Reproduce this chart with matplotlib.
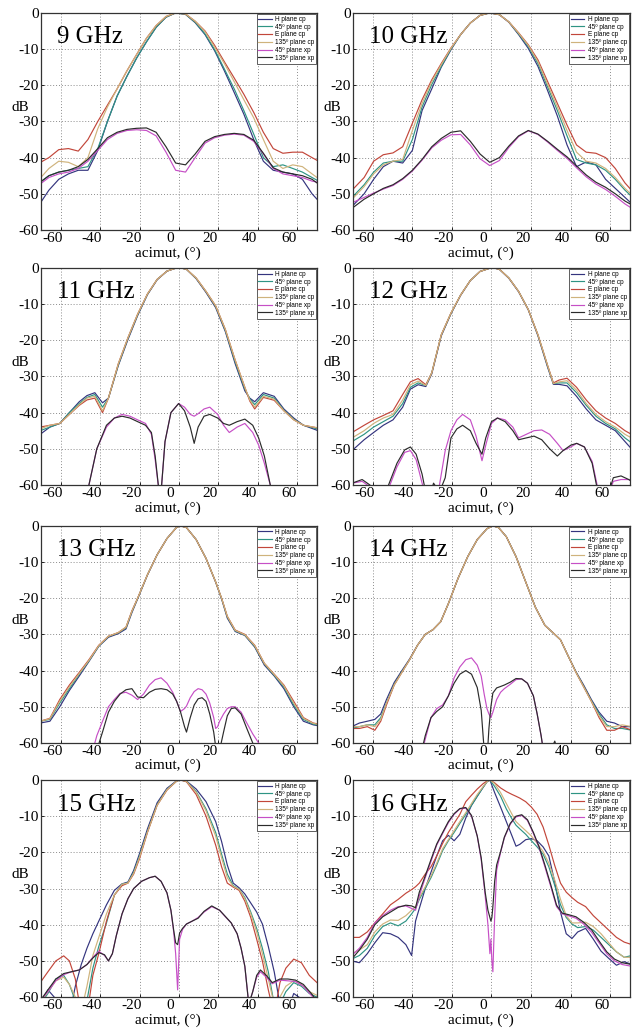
import matplotlib
matplotlib.use("Agg")
import matplotlib.pyplot as plt
import matplotlib.transforms as mtransforms

plt.rcParams['font.family'] = ['Liberation Serif', 'DejaVu Serif']
plt.rcParams['axes.unicode_minus'] = False

series_labels = ["H plane cp", "45º plane cp", "E plane cp", "135º plane cp",
                 "45º plane xp", "135º plane xp"]
series_colors = ["#34347e", "#2e9484", "#c2463a", "#cfb37c", "#c64fc6", "#2b2b2b"]

# ---- 9 GHz ----
x_9 = [-70.9, -66, -61, -56.1, -51.1, -46.2, -41.2, -36.3, -31.4, -26.4, -21.5, -16.5, -11.6, -6.6, -1.7,
       3.3, 8.2, 13.2, 18.1, 23, 28, 32.9, 37.9, 42.8, 47.8, 52.7, 57.7, 62.6, 67.5, 72.5]
h_9 = [-53, -49, -46, -44.5, -43.5, -43.5, -38, -30, -23, -17.5, -12.5, -8, -4, -1.2, 0,
       -0.4, -2.7, -6, -10.5, -16, -22, -28, -35, -41, -43.5, -44, -44.5, -46, -50, -53]
d45_9 = [-47, -45, -44, -43.5, -43, -42.5, -37.5, -30, -23, -17.5, -12.5, -8, -4, -1.2, 0,
         -0.4, -2.6, -5.8, -10.2, -15.5, -21, -27, -33.5, -40, -42.5, -42, -43, -44, -45.5, -47]
e_9 = [-41.5, -40, -37.8, -37.5, -38.2, -35, -30, -25.5, -21, -16, -11.5, -7, -3.5, -1, 0,
       -0.3, -2.3, -5, -9, -13.5, -18, -22.5, -27.5, -33, -37.5, -38.8, -38.5, -38.5, -40, -41.5]
d135_9 = [-46, -43, -41, -41.3, -42.5, -40, -32, -26, -21, -16, -11.5, -7, -3.5, -1, 0,
          -0.3, -2.3, -5.2, -9.5, -14, -19, -24, -29, -35, -41, -43, -42, -42.5, -44.5, -46.5]
xp45_9 = [-47.5, -45.5, -44.5, -44, -43, -41, -38, -35, -33.3, -32.5, -32.3, -32.5, -34, -38.5, -43.5,
          -44, -40, -36, -34.5, -33.8, -33.5, -33.8, -35.5, -39, -43, -44.5, -45, -45.5, -46.5, -47]
xp135_9 = [-47, -45, -44, -43.5, -42.5, -40.5, -37.5, -34.5, -33, -32.2, -31.9, -31.8, -33, -37, -41.5,
           -42, -39, -35.5, -34.2, -33.6, -33.3, -33.6, -35.2, -38.8, -42.8, -44, -44.5, -45, -46, -48]

# ---- 10 GHz ----
x_10 = [-70.5, -64.4, -59.6, -54.7, -49.8, -44.9, -40, -35.1, -30.2, -25.4, -20.5, -15.6, -10.7, -5.8, -0.9,
        4, 8.8, 13.7, 18.6, 23.5, 28.4, 33.3, 38.2, 43, 47.9, 52.8, 57.7, 62.6, 67.5, 72.4]
h_10 = [-53.5, -50, -46, -42.5, -41, -41.5, -38, -27, -21, -15, -10.2, -6, -2.8, -0.7, 0,
        -0.5, -2.6, -6, -9.8, -14.8, -21.5, -28.5, -36.5, -42.5, -41.2, -42, -46, -48.5, -51, -53.5]
d45_10 = [-51, -47.5, -44, -41.5, -41, -41, -35, -26, -19.8, -14.8, -10, -6, -2.8, -0.7, 0,
          -0.5, -2.5, -5.8, -9.3, -14, -20.5, -27, -34, -40.5, -41.5, -42, -43.5, -46, -49, -51.5]
e_10 = [-49, -45.5, -41, -39.2, -38.7, -37, -30.5, -24, -18.5, -14, -9.7, -6, -2.8, -0.7, 0,
        -0.5, -2.5, -5.5, -8.8, -13, -19, -25, -31, -36.5, -38.5, -38.8, -40, -43, -47, -50]
d135_10 = [-51.5, -48, -44.5, -42, -41, -40.5, -32.5, -25, -19, -14.3, -9.8, -6, -2.8, -0.7, 0,
           -0.5, -2.5, -5.6, -9, -13.5, -19.8, -26, -32.5, -38.5, -41, -41.5, -43, -45.5, -48.5, -51]
xp45_10 = [-52.5, -51, -49.8, -48.7, -47.7, -46, -43.7, -40.7, -37.3, -35.2, -33.7, -33.6, -36.5, -40.3, -42.2,
           -40.8, -37.2, -34.2, -32.6, -33.6, -35.7, -38, -40.2, -42.8, -45.3, -47.3, -48.8, -50.7, -52.8, -54.5]
xp135_10 = [-54, -51.5, -50, -48.5, -47.5, -45.8, -43.5, -40.5, -37, -34.7, -33, -32.6, -35.5, -39, -41.3,
            -40, -36.8, -34, -32.5, -33.5, -35.5, -37.7, -39.8, -42.3, -44.8, -46.8, -48.2, -50, -52, -53.5]

# ---- 11 GHz ----
x_11 = [-70.4, -65.5, -60.5, -55.6, -50.6, -46.7, -42.7, -38.8, -35.8, -30.8, -25.9, -21, -16, -11.1, -6.1,
        -1.2, 0.8, 3.8, 8.7, 13.7, 18.6, 23.5, 28.5, 33.4, 35.9, 38.4, 42.8, 48.3, 53.2, 58.2, 63.1, 68.1, 73]
h_11 = [-46, -44, -43, -40, -37, -35.3, -34.5, -37.3, -36, -27, -19.8, -13.2, -7.4, -3.3, -0.9,
        0, 0, -0.4, -3, -6.8, -11, -17.6, -26.5, -34, -36, -37, -34.5, -35.5, -39, -41.5, -43.5, -44.5, -45.5]
d45_11 = [-45, -44, -43, -40, -37.5, -35.8, -35, -38.5, -36, -26.8, -19.5, -13, -7.3, -3.2, -0.9,
          0, 0, -0.4, -2.9, -6.6, -10.7, -17.3, -26, -33.5, -36.2, -37.8, -35, -36, -39.3, -41.8, -43.5, -44.2, -45]
e_11 = [-44, -43.5, -43, -40.5, -38, -36.5, -36, -40, -36, -26.5, -19.3, -12.8, -7.2, -3.2, -0.9,
        0, 0, -0.4, -2.8, -6.5, -10.5, -17, -25.5, -33, -36.8, -39, -35.8, -36.6, -39.5, -42, -43.5, -44, -44.5]
d135_11 = [-44.5, -43.5, -43, -40.5, -37.8, -36, -35.5, -39.5, -36, -26.5, -19.3, -12.8, -7.2, -3.2, -0.9,
           0, 0, -0.4, -2.8, -6.5, -10.5, -17, -25.5, -33, -36.5, -38.5, -35.5, -36.3, -39.5, -42, -43.5, -44, -44.5]
xq_11 = [-47.7, -45.7, -41.7, -36.8, -32.8, -28.9, -24.9, -21, -17, -14, -12.1, -10.1, -9.1, -7.1, -4.1,
         -0.2, 2.8, 5.7, 7.7, 9.7, 12.7, 15.6, 19.6, 22.6, 25.5, 29.5, 33.4, 37.4, 40.4, 43.3, 46.3]
xp45_11 = [-64, -60, -50, -44, -41.5, -40.5, -41, -42, -43, -46, -53, -62, -62, -48, -40,
           -37.5, -38.5, -40.5, -41, -40.3, -39, -38.5, -40.5, -43.5, -45.5, -44, -43, -45.5, -49, -54, -60]
xp135_11 = [-64, -60, -50, -43.5, -41.5, -41, -41.5, -42.5, -43.5, -45.5, -52, -62, -62, -48, -40,
            -37.5, -39.5, -44, -48.5, -44, -41, -40.5, -41.5, -43, -43.5, -42.5, -41.8, -43.5, -47, -52, -60]

# ---- 12 GHz ----
x_12 = [-70.5, -64.4, -59.6, -54.7, -49.8, -44.9, -41, -37.1, -33.2, -30.2, -25.4, -20.5, -15.6, -10.7, -5.8,
        -0.9, 1, 4, 8.8, 13.7, 18.6, 23.5, 28.4, 31.3, 34.2, 38.2, 43, 47.9, 52.8, 57.7, 62.6, 67.5, 72.4]
h_12 = [-50.5, -47.5, -45.5, -43.5, -42, -38.5, -33.5, -32.3, -32.8, -29.3, -18.8, -12.7, -7.6, -3.5, -1,
        -0.1, 0, -0.4, -2.9, -6.6, -11.6, -18.8, -27.5, -32.2, -32.2, -32.6, -35.5, -39, -42, -43.5, -45, -48, -51]
d45_12 = [-48, -46, -44, -42.5, -41, -37.5, -33, -31.8, -32.5, -29, -18.6, -12.6, -7.5, -3.5, -1,
          -0.1, 0, -0.4, -2.8, -6.5, -11.5, -18.6, -27.2, -32, -31.8, -31.8, -34.5, -38, -41, -43, -44.5, -47, -49]
e_12 = [-45.5, -43.5, -42, -40.8, -39.5, -35, -31.5, -30.6, -32.3, -29, -18.5, -12.5, -7.5, -3.5, -1,
        -0.1, 0, -0.4, -2.8, -6.5, -11.5, -18.5, -27, -31.8, -31, -30.5, -33, -36.5, -39.5, -41.5, -43, -45, -46.5]
d135_12 = [-47, -45, -43, -41.5, -40.5, -36.5, -32.3, -31.3, -32.5, -29, -18.5, -12.5, -7.5, -3.5, -1,
           -0.1, 0, -0.4, -2.8, -6.5, -11.5, -18.5, -27, -32, -31.5, -31.2, -33.8, -37.5, -40.5, -42.5, -44, -46, -47.5]
xq_12 = [-70.5, -65.4, -61.5, -55.6, -51.7, -47.8, -43.9, -41, -38.1, -35.1, -32.2, -29.3, -26.3, -23.4,
         -20.5, -17.5, -14.6, -10.7, -7.8, -4.8, -2.9, 0, 3, 6.9, 10.8, 13.7, 17.6, 21.5,
         25.4, 29.4, 33.3, 36.2, 40.1, 43.1, 47, 50.9, 53.8, 57.7, 61.6, 65.5, 69.4, 72.4]
xp45_12 = [-59.5, -59, -60.5, -65, -60.5, -55, -51, -50.5, -53, -59.5, -65, -65, -60, -50.5,
           -45, -42, -40.5, -42, -46.5, -53.3, -49, -43, -41.5, -42, -44, -47, -46, -45,
           -44.8, -46, -48.5, -50.5, -49.5, -48.5, -49.5, -53.5, -61, -65, -59, -58.5, -58.5, -59]
xp135_12 = [-59.5, -58.5, -60, -65, -59.5, -54, -50.3, -49.5, -51.5, -57, -65, -59.5, -62, -58,
            -47, -44.5, -43.5, -45, -48.5, -51.5, -47, -42.5, -41.5, -42.5, -45, -47.5, -47, -46.5,
            -47.5, -50, -52, -50.5, -49, -48.5, -49.5, -54, -62, -65, -58, -57.5, -58.5, -59.5]

# ---- 13 GHz ----
x_13 = [-70.4, -65.5, -60.5, -55.6, -50.6, -45.7, -40.7, -35.8, -30.8, -26.9, -23.9, -21, -16, -11.1, -6.1,
        -1.2, 0.8, 3.8, 8.7, 13.7, 18.6, 21.6, 24.5, 28.5, 33.4, 38.4, 43.3, 48.3, 53.2, 58.2, 63.1, 68.1, 73]
h_13 = [-54.5, -54, -50, -45.5, -41.5, -37.5, -33.3, -30.8, -29.8, -28.5, -24, -20.2, -13.6, -8, -3.5,
        -0.4, 0, -0.5, -3.8, -9, -15.6, -20.2, -25.5, -29.2, -30.3, -33.5, -38.5, -41.5, -45, -50, -54, -55, -55.5]
d45_13 = [-54, -53.5, -49, -45, -41, -37.3, -33.2, -30.6, -29.6, -28.2, -23.7, -20.1, -13.5, -8, -3.5,
          -0.4, 0, -0.5, -3.8, -9, -15.5, -20.1, -25.2, -29, -30.2, -33.3, -38.2, -41.3, -44.5, -49.5, -53.5, -54.8, -55.3]
e_13 = [-54, -53.2, -48, -44, -40.5, -37, -33, -30.5, -29.5, -28, -23.5, -20, -13.5, -8, -3.5,
        -0.4, 0, -0.5, -3.8, -9, -15.5, -20, -25, -28.8, -30, -33, -38, -41, -44, -48.5, -53, -54.5, -55]
d135_13 = [-54, -53.3, -48.5, -44.5, -40.8, -37.2, -33.1, -30.5, -29.5, -28, -23.6, -20, -13.5, -8, -3.5,
           -0.4, 0, -0.5, -3.8, -9, -15.5, -20, -25, -28.9, -30.1, -33.1, -38, -41.1, -44.2, -49, -53.2, -54.6, -55.1]
xq_13 = [-43.7, -41.7, -38.8, -35.8, -32.8, -29.9, -26.9, -23.9, -21, -18, -15, -12.1, -9.1, -6.1, -3.2,
         -1.2, 0.8, 2.8, 3.8, 5.7, 7.7, 9.7, 11.7, 13.7, 15.6, 17.6, 18.6, 19.6, 20.6, 22.6,
         24.5, 26.5, 28.5, 31.5, 34.4, 37.4, 40.4, 42.3]
xp45_13 = [-62, -58, -54, -50, -48, -46.3, -46, -46.8, -48, -46.5, -44, -42.5, -42, -43.5, -46,
           -48.5, -51.3, -50.5, -49.8, -47.5, -45.8, -45, -45.3, -46.5, -49, -53, -56, -55.5, -54, -52,
           -50.5, -50, -50, -51.5, -54.5, -57.5, -60, -63]
xp135_13 = [-65, -62, -57, -51.5, -48.5, -46.5, -45.3, -45, -47.3, -47.5, -46, -45.2, -45, -45.3, -46.5,
            -48.5, -51.5, -55.5, -57, -53, -49.5, -47.8, -47.5, -48.5, -52, -57, -61, -65, -62, -57,
            -52.5, -50.5, -50.3, -52, -56, -60, -65, -65]

# ---- 14 GHz ----
x_14 = [-70.7, -66.8, -62.8, -59, -56, -53.1, -49.2, -45.3, -41.4, -37.4, -33.5, -29.6, -25.7, -21.8, -16.9,
        -12, -7.2, -2.3, 0.7, 3.6, 7.5, 12.4, 17.3, 22.2, 27, 31, 34.9, 38.8, 42.7, 46.6,
        50.5, 54.4, 58.3, 62.2, 66.1, 71]
h_14 = [-55.5, -54.5, -54, -53.5, -52, -48, -43.3, -40, -36.8, -33, -30, -28.7, -26.5, -21.5, -14.5,
        -8.5, -3.8, -0.8, 0, -0.5, -3, -8.5, -15.5, -22.5, -27.5, -29.5, -31.5, -36, -40.3, -44,
        -48, -51.5, -54, -54.5, -55.5, -55.5]
d45_14 = [-56, -55.5, -55, -55, -53, -49, -43.8, -40.3, -37, -33, -30, -28.7, -26.5, -21.5, -14.5,
          -8.5, -3.8, -0.8, 0, -0.5, -3, -8.5, -15.5, -22.5, -27.5, -29.5, -31.5, -36, -40.4, -44.3,
          -48.3, -52, -55, -56, -56, -56.5]
e_14 = [-56, -56, -55.5, -56.5, -54, -49.5, -44, -40.5, -37, -33, -30, -28.7, -26.5, -21.5, -14.5,
        -8.5, -3.8, -0.8, 0, -0.5, -3, -8.5, -15.5, -22.5, -27.5, -29.5, -31.5, -36, -40.5, -44.5,
        -48.5, -53, -56.5, -56.5, -55.5, -56.5]
d135_14 = [-55.5, -55.5, -55, -55.5, -53.5, -49, -44, -40.5, -37, -33, -30, -28.7, -26.5, -21.5, -14.5,
           -8.5, -3.8, -0.8, 0, -0.5, -3, -8.5, -15.5, -22.5, -27.5, -29.5, -31.5, -36, -40.5, -44.5,
           -48.5, -52.5, -55.5, -55.5, -55, -55.5]
xq_14 = [-36.5, -33.5, -30.6, -27.7, -24.7, -21.8, -18.9, -16, -13, -10.1, -7.2, -5.2, -3.7, -2.3, -1.3,
         -0.3, 0.7, 2.6, 4.6, 6.5, 9.5, 12.4, 15.3, 18.2, 21.2, 23.1, 25.1, 27, 30, 32, 33.9]
xp45_14 = [-65, -59, -53, -50.5, -49.5, -47, -42, -39, -37, -36.5, -38.5, -41.5, -46.5, -50.5, -52,
           -53, -51.5, -48, -46, -45, -43.8, -42.5, -42.3, -43.5, -47, -52, -58, -65, -65, -65, -65]
xp135_14 = [-65, -58, -53, -51.3, -50, -47, -43.5, -41, -40, -41, -44.7, -51, -62, -65, -56,
            -50, -46.2, -44.8, -44.4, -44, -43.2, -42.2, -42.3, -43.5, -47, -52, -58, -65, -62, -59.5, -63]

# ---- 15 GHz ----
x_15 = [-70.4, -66.5, -62.5, -58.5, -55.6, -52.6, -49.6, -46.7, -43.7, -40.7, -36.8, -32.8, -28.9, -25.9,
        -23, -20, -16, -11.1, -6.1, -1.2, 0.8, 3.8, 8.7, 13.7, 18.6, 21.6, 24.5, 27.5,
        30.5, 33.4, 36.4, 39.4, 42.3, 45.3, 48.3, 51.2, 54.2, 58.2, 62.1, 66.1, 70, 73]
h_15 = [-62, -58, -60.5, -65, -65, -57, -51, -46.5, -42.5, -39, -34.5, -30.5, -28.7, -28.2,
        -25, -20.3, -13.5, -6.3, -2.3, -0.2, 0, -0.3, -2.5, -6, -11.5, -17, -23.5, -28.5,
        -29.8, -31.5, -34, -36.5, -39.8, -46, -53, -62, -65, -59, -60.5, -63, -65, -65]
d45_15 = [-62, -59, -55, -54, -56.5, -61, -65, -61, -52, -46, -39.5, -31.8, -28.8, -28.4,
          -25.5, -21, -14.2, -6.8, -2.6, -0.3, 0, -0.4, -3.2, -8, -14.5, -20.5, -26, -29.2,
          -30.2, -32.5, -36.5, -41, -46.5, -53, -62, -62, -58.5, -56, -57, -59, -60, -61]
e_15 = [-56, -53, -50, -48.6, -50, -55, -65, -65, -54, -48, -39, -31.8, -29.2, -28.5,
        -26, -21.7, -14.5, -7, -2.8, -0.3, 0, -0.5, -4, -10, -18, -24, -28.5, -29.6,
        -30.5, -33.5, -38, -44, -50, -58, -65, -56, -52, -49.5, -50.5, -54, -56, -57]
d135_15 = [-61.5, -58.5, -55.5, -54.5, -56.5, -60, -64, -57, -48.5, -43.5, -37, -31.8, -28.8, -28.5,
           -25.8, -21.3, -14.4, -7, -2.7, -0.3, 0, -0.4, -3.4, -8.5, -15.5, -21.5, -27, -29.4,
           -30.2, -32.8, -37, -42, -48, -55, -62, -60, -57, -55.5, -56.5, -58.5, -59.5, -60.5]
xq_15 = [-70.4, -66.5, -62.5, -58.5, -54.6, -50.6, -46.7, -43.7, -40.7, -37.8, -35.8, -33.8, -31.8,
         -28.9, -25.9, -23, -19, -15, -12.1, -9.1, -6.1, -4.1, -2.7, -1.7, -0.7, 0.3, 1.8,
         3.8, 6.7, 9.7, 12.7, 16.6, 20.6, 23.5, 26.5, 29.5, 31.5, 33.4, 35.4, 37.4, 39.4,
         41.3, 44.3, 47.3, 51.2, 55.2, 59.1, 63.1, 67.1, 70, 73]
xp45_15 = [-61, -58.5, -55.5, -53.8, -53, -52.5, -51, -49, -47.3, -48.5, -50, -48, -43,
           -37, -32.8, -30, -28, -27, -26.6, -28, -31.2, -36, -42, -48, -58, -44, -41.3,
           -39.8, -39, -38, -36.5, -35, -36, -37.8, -39.5, -42.5, -46.5, -51.5, -62, -58.5, -54.5,
           -53, -54.5, -56.3, -55.3, -55.5, -55.7, -57, -59.5, -61, -62]
xp135_15 = [-61, -58, -55, -53.5, -53, -52.5, -51, -49.2, -47.7, -48.3, -50, -48, -43,
            -37, -32.8, -30, -28, -27, -26.6, -28, -31.2, -36, -41.5, -45, -45.5, -42.3, -41,
            -39.8, -39, -38.2, -36.3, -34.8, -36, -37.7, -39.5, -42.5, -46.5, -51.5, -62, -58.5, -54,
            -52.5, -54, -56, -55, -55, -55.3, -56.5, -59, -61, -62]

# ---- 16 GHz ----
x_16 = [-70.7, -66.8, -62.8, -59, -55, -51.1, -47.2, -43.3, -40.4, -38.4, -36.5, -33.5, -30.6, -27.7,
        -24.7, -21.8, -18.9, -16, -13, -10.1, -7.2, -4.2, -2.3, -0.8, 1.6, 4.6, 7.5, 10.4,
        12.4, 14.3, 17.3, 20.2, 23.1, 26.1, 29, 31.9, 34.9, 37.8, 40.7, 43.6, 47.6, 51.5,
        55.4, 59.3, 63.2, 67.1, 71]
h_16 = [-50, -50.5, -48, -45, -42.2, -42.5, -43.5, -45.5, -48.5, -39, -35.5, -30, -25.5, -21,
        -16.8, -15.3, -16.8, -15, -10.5, -7, -4.5, -2, -0.5, 0, -3.5, -7.5, -11.5, -15.5,
        -18.3, -17.8, -16.5, -16.2, -16.8, -18.5, -21, -28, -36.5, -42.5, -43.8, -42, -41, -44,
        -47.3, -49.3, -51.2, -50.2, -51]
d45_16 = [-49.5, -48.5, -46.5, -43, -40.5, -39.5, -40.3, -39, -37, -35.5, -33, -30, -27, -23.5,
          -19.5, -16.8, -14.5, -12, -9.5, -7, -4.5, -2, -0.5, 0, -1.8, -4.5, -8, -10.8,
          -12.5, -13.5, -15, -16.8, -18.5, -20.5, -24, -29, -34.5, -38, -39.8, -40.8, -40.5, -41.5,
          -43.5, -45.5, -47.5, -49, -48.5]
e_16 = [-43.5, -43.5, -42, -39.5, -37, -34.5, -33, -31.3, -30.3, -29.5, -28.5, -26, -24, -21,
        -17.5, -14.5, -12, -9.5, -6, -4.2, -2.5, -1, -0.3, 0, -0.8, -2.2, -3.2, -4,
        -4.5, -5, -6, -7.5, -9.5, -13, -18, -23.5, -28.5, -31, -32.5, -33.8, -35, -37.5,
        -39.5, -41.5, -43.5, -44.8, -45.5]
d135_16 = [-48, -47, -45.5, -42, -39.8, -38.7, -38.8, -37.5, -36, -35, -32.5, -29.5, -26.5, -23,
           -19, -16.5, -14, -11.5, -9, -6.5, -4, -1.8, -0.5, 0, -1, -3.5, -6.5, -9.5,
           -11.5, -12.5, -14, -15.5, -17.5, -19.8, -23, -27.5, -33, -37.5, -39.5, -39.5, -39.3, -40.5,
           -42.5, -45, -47.5, -49, -49]
xq_16 = [-70.7, -66.8, -62.8, -59, -55, -51.1, -47.2, -43.3, -40.4, -38.4, -36.5, -33.5, -30.6,
         -27.7, -24.7, -21.8, -18.9, -16, -13, -10.1, -7.2, -5.2, -3.2, -1.8, -0.8, -0.3,
         0.2, 0.7, 1.1, 1.6, 2.6, 4.6, 6.5, 9.5, 12.4, 15.3, 18.2, 21.2, 24.1, 27,
         30, 32.9, 35.8, 38.8, 42.7, 46.6, 50.5, 54.4, 58.3, 62.2, 66.1, 71]
xp45_16 = [-48.5, -46.5, -43.5, -39.5, -37.5, -36, -35, -34.8, -35.5, -36, -32, -27, -22.5,
           -18, -14.8, -11.8, -9.5, -8, -7.8, -10, -15.5, -22, -32, -40, -48, -44,
           -50, -53, -46, -38, -25, -20, -16, -12.2, -10.2, -9.8, -11.2, -14.8, -18.8, -24,
           -29.5, -35, -37, -37.5, -38.2, -39.8, -42, -45, -48, -50, -51, -51.5]
xp135_16 = [-49.5, -47, -44, -40, -37.8, -36.5, -35.2, -34.6, -34.8, -35.3, -31, -26.5, -22,
            -17.7, -14.5, -11.5, -9.3, -7.9, -7.6, -9.8, -15.5, -21.5, -31, -36, -38, -39,
            -38, -35, -32, -28, -23.5, -19.8, -15.8, -12, -10, -9.6, -11, -14.5, -18.5, -23.5,
            -29, -34.6, -36.8, -37.2, -37.8, -39.3, -41.3, -44.5, -47.5, -49.5, -50.5, -51]

panels = [
    ("9 GHz", x_9, [h_9, d45_9, e_9, d135_9], x_9, [xp45_9, xp135_9]),
    ("10 GHz", x_10, [h_10, d45_10, e_10, d135_10], x_10, [xp45_10, xp135_10]),
    ("11 GHz", x_11, [h_11, d45_11, e_11, d135_11], xq_11, [xp45_11, xp135_11]),
    ("12 GHz", x_12, [h_12, d45_12, e_12, d135_12], xq_12, [xp45_12, xp135_12]),
    ("13 GHz", x_13, [h_13, d45_13, e_13, d135_13], xq_13, [xp45_13, xp135_13]),
    ("14 GHz", x_14, [h_14, d45_14, e_14, d135_14], xq_14, [xp45_14, xp135_14]),
    ("15 GHz", x_15, [h_15, d45_15, e_15, d135_15], xq_15, [xp45_15, xp135_15]),
    ("16 GHz", x_16, [h_16, d45_16, e_16, d135_16], xq_16, [xp45_16, xp135_16]),
]

fig = plt.figure(figsize=(6.35, 10.29), dpi=100)
col_left = [0.0646, 0.556]
col_width = [0.4346, 0.436]
row_bottom = [0.7765, 0.5287, 0.278, 0.031]
ax_h = 0.211

# tick labels sit a little left of their grid lines in the original
shift = mtransforms.ScaledTranslation(-6 / 72, 0, fig.dpi_scale_trans)

for i, (name, xc, cps, xx, xps) in enumerate(panels):
    r, c = divmod(i, 2)
    ax = fig.add_axes([col_left[c], row_bottom[r], col_width[c], ax_h])

    for ys, col, lab in zip(cps, series_colors[:4], series_labels[:4]):
        ax.plot(xc, ys, color=col, lw=0.85, label=lab)
    for ys, col, lab in zip(xps, series_colors[4:], series_labels[4:]):
        ax.plot(xx, ys, color=col, lw=0.85, label=lab)

    ax.set_xlim(-70, 70)
    ax.set_ylim(-60, 0)
    ax.set_xticks(range(-60, 61, 20))
    ax.set_yticks(range(-60, 1, 10))
    ax.grid(True, color='#8c8c8c', linestyle=(0, (1, 2)), linewidth=0.7)
    ax.tick_params(direction='in', length=2.5, width=0.6, labelsize=11, pad=1.5)
    for lbl in ax.get_xticklabels():
        lbl.set_transform(lbl.get_transform() + shift)
    for sp in ax.spines.values():
        sp.set_linewidth(0.9)
        sp.set_color('#333333')

    leg = ax.legend(loc='upper right', prop={'family': 'Liberation Sans', 'size': 4.7},
                    handlelength=2.0, handletextpad=0.5, labelspacing=0.12,
                    borderpad=0.3, borderaxespad=0.15, fancybox=False,
                    edgecolor='#444444', framealpha=1)
    leg.get_frame().set_linewidth(0.6)

    ax.text(0.058, 0.887, name, transform=ax.transAxes, fontsize=18,
            ha='left', va='center')
    ax.text(-0.075, 0.565, 'dB', transform=ax.transAxes, fontsize=11,
            ha='center', va='center')
    ax.text(0.46, -0.105, 'acimut, (°)', transform=ax.transAxes, fontsize=11,
            ha='center', va='center')

fig.savefig('out.png', dpi=100)
